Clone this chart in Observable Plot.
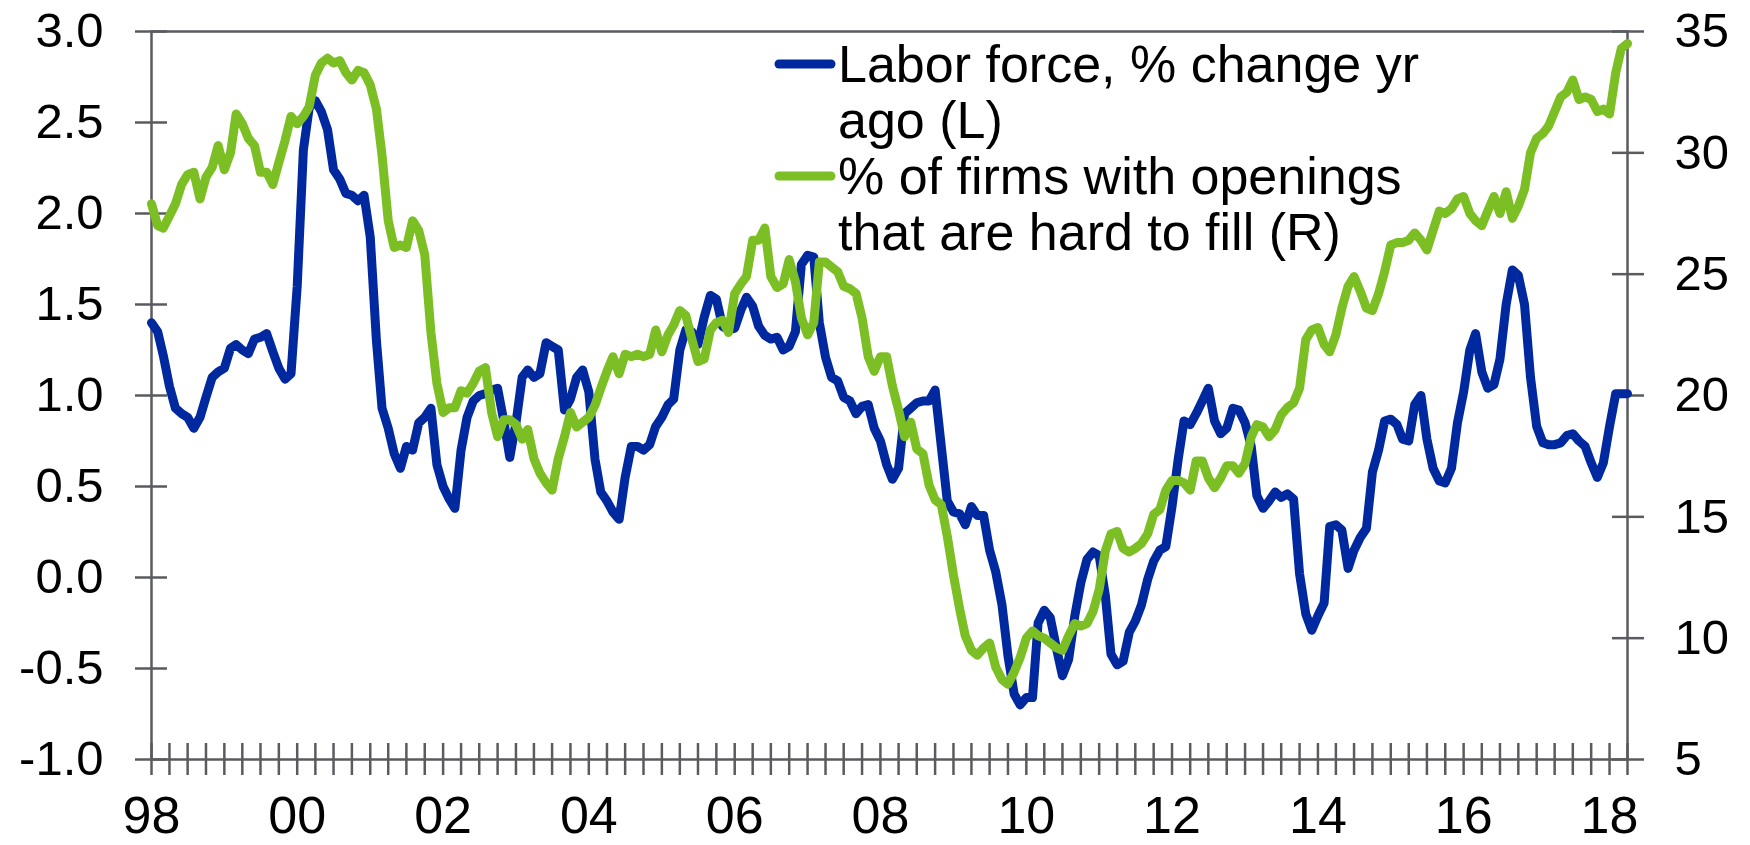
<!DOCTYPE html>
<html>
<head>
<meta charset="utf-8">
<script src="https://cdn.jsdelivr.net/npm/d3@7"></script>
<script src="https://cdn.jsdelivr.net/npm/@observablehq/plot@0.6"></script>
<style>
  html, body { margin: 0; padding: 0; background: #fff; }
  #chart { width: 1750px; height: 845px; }
</style>
</head>
<body>
<div id="chart"></div>
<script>
// ---------------- data ----------------
const firstMonth = [1998, 0];   // Jan 1998, monthly data

// Labor force, % change yr ago (left axis)
const laborForce = [
  1.40, 1.35, 1.22, 1.05, 0.93, 0.90, 0.88, 0.82, 0.88, 0.99, 1.10, 1.13,
  1.15, 1.26, 1.28, 1.25, 1.23, 1.31, 1.32, 1.34, 1.24, 1.15, 1.09, 1.12,
  1.60, 2.35, 2.58, 2.62, 2.56, 2.46, 2.24, 2.19, 2.11, 2.10, 2.07, 2.10,
  1.87, 1.30, 0.93, 0.82, 0.68, 0.60, 0.72, 0.70, 0.85, 0.88, 0.93, 0.62,
  0.50, 0.43, 0.38, 0.70, 0.88, 0.97, 1.00, 1.01, 1.03, 1.04, 0.86, 0.66,
  0.85, 1.10, 1.14, 1.10, 1.12, 1.29, 1.27, 1.25, 0.92, 0.98, 1.10, 1.14,
  1.02, 0.65, 0.47, 0.42, 0.36, 0.32, 0.55, 0.72, 0.72, 0.70, 0.73, 0.83,
  0.88, 0.95, 0.98, 1.25, 1.36, 1.35, 1.28, 1.43, 1.55, 1.53, 1.38, 1.36,
  1.37, 1.47, 1.54, 1.49, 1.38, 1.33, 1.31, 1.32, 1.25, 1.27, 1.35, 1.72,
  1.77, 1.76, 1.40, 1.21, 1.10, 1.08, 0.99, 0.97, 0.90, 0.94, 0.95, 0.82,
  0.75, 0.62, 0.54, 0.60, 0.90, 0.93, 0.96, 0.97, 0.97, 1.03, 0.72, 0.42,
  0.36, 0.35, 0.29, 0.39, 0.34, 0.34, 0.15, 0.03, -0.15, -0.43, -0.64, -0.70,
  -0.66, -0.66, -0.25, -0.18, -0.22, -0.39, -0.54, -0.45, -0.21, -0.03, 0.10, 0.14,
  0.12, -0.10, -0.42, -0.48, -0.46, -0.30, -0.24, -0.15, -0.01, 0.09, 0.15, 0.17,
  0.39, 0.65, 0.86, 0.84, 0.90, 0.97, 1.04, 0.86, 0.79, 0.82, 0.93, 0.92,
  0.85, 0.72, 0.45, 0.38, 0.42, 0.47, 0.44, 0.46, 0.43, 0.02, -0.20, -0.29,
  -0.21, -0.14, 0.28, 0.29, 0.26, 0.05, 0.15, 0.22, 0.27, 0.58, 0.70, 0.86,
  0.87, 0.84, 0.76, 0.75, 0.95, 1.00, 0.76, 0.60, 0.53, 0.52, 0.60, 0.85,
  1.02, 1.25, 1.34, 1.13, 1.04, 1.06, 1.20, 1.50, 1.69, 1.66, 1.50, 1.10,
  0.83, 0.74, 0.73, 0.73, 0.74, 0.78, 0.79, 0.75, 0.72, 0.63, 0.55, 0.63,
  0.83, 1.01, 1.01, 1.01
];

// % of firms with openings that are hard to fill (right axis)
const hardToFill = [
  27.9, 27.0, 26.9, 27.4, 27.9, 28.7, 29.1, 29.2, 28.1, 29.0, 29.4, 30.3,
  29.3, 30.0, 31.6, 31.2, 30.6, 30.3, 29.2, 29.2, 28.7, 29.6, 30.5, 31.5,
  31.2, 31.5, 31.9, 33.2, 33.7, 33.9, 33.7, 33.8, 33.3, 33.0, 33.4, 33.3,
  32.8, 31.8, 29.9, 27.2, 26.1, 26.2, 26.1, 27.2, 26.8, 25.8, 22.6, 20.5,
  19.3, 19.5, 19.5, 20.2, 20.1, 20.5, 21.0, 21.15, 19.3, 18.3, 19.0, 19.0,
  18.8, 18.2, 18.6, 17.4, 16.8, 16.4, 16.1, 17.4, 18.3, 19.3, 18.7, 18.9,
  19.1, 19.6, 20.3, 21.0, 21.6, 20.9, 21.7, 21.6, 21.7, 21.6, 21.7, 22.7,
  21.8, 22.5, 22.9, 23.5, 23.3, 22.3, 21.4, 21.5, 22.7, 23.0, 23.1, 22.6,
  24.2, 24.6, 24.9, 26.4, 26.4, 26.9, 24.9, 24.45, 24.6, 25.6, 24.7, 23.2,
  22.5, 23.0, 25.5, 25.5, 25.3, 25.1, 24.5, 24.4, 24.2, 23.2, 21.6, 21.0,
  21.6, 21.6, 20.4, 19.4, 18.3, 18.9, 17.8, 17.6, 16.3, 15.7, 15.5, 14.2,
  12.6, 11.2, 10.1, 9.5, 9.3, 9.6, 9.8, 8.8, 8.3, 8.1, 8.6, 9.2,
  10.0, 10.3, 10.1, 10.0, 9.8, 9.6, 9.5, 10.1, 10.6, 10.5, 10.6, 11.1,
  12.0, 13.6, 14.3, 14.4, 13.7, 13.55, 13.7, 13.9, 14.3, 15.1, 15.3, 16.1,
  16.5, 16.5, 16.4, 16.1, 17.3, 17.3, 16.6, 16.2, 16.6, 17.1, 17.1, 16.8,
  17.2, 18.3, 18.8, 18.7, 18.3, 18.6, 19.2, 19.5, 19.7, 20.3, 22.3, 22.7,
  22.8, 22.1, 21.8, 22.5, 23.6, 24.5, 24.9, 24.3, 23.6, 23.5, 24.2, 25.1,
  26.2, 26.3, 26.3, 26.4, 26.7, 26.4, 26.0, 26.8, 27.6, 27.5, 27.7, 28.1,
  28.2, 27.5, 27.2, 27.0, 27.6, 28.2, 27.5, 28.4, 27.3, 27.8, 28.5, 30.0,
  30.6, 30.8, 31.1, 31.7, 32.3, 32.5, 33.0, 32.2, 32.3, 32.2, 31.7, 31.8,
  31.6, 33.3, 34.3, 34.5
];

const leftDomain = [-1, 3];
const rightDomain = [5, 35];
const leftTicks = [-1, -0.5, 0, 0.5, 1, 1.5, 2, 2.5, 3];
const rightTicks = [5, 10, 15, 20, 25, 30, 35];
const seriesNames = [
  ["Labor force, % change yr", "ago (L)"],
  ["% of firms with openings", "that are hard to fill (R)"]
];

// ---------------- styles ----------------
const BLUE = "#0029A0";
const GREEN = "#7CBF25";
const AXIS = "#595B5F";
const FONT = "'Liberation Sans', Arial, Helvetica, sans-serif";

// ---------------- build ----------------
const start = new Date(Date.UTC(firstMonth[0], firstMonth[1], 1));
const dates = laborForce.map((_, i) => d3.utcMonth.offset(start, i));
const end = dates[dates.length - 1];

// map right-axis values onto the left-axis scale
const rightToLeft = d3.scaleLinear().domain(rightDomain).range(leftDomain);

const blueRows = laborForce.map((v, i) => ({date: dates[i], value: v}));
const greenRows = hardToFill.map((v, i) => ({date: dates[i], value: rightToLeft(v), raw: v}));

const quarterTicks = d3.utcMonth.every(3).range(start, d3.utcDay.offset(end, 1));
const yearTicks = d3.utcYear.every(2).range(start, d3.utcDay.offset(end, 1));
const rightTickPos = rightTicks.map(rightToLeft);

const chart = Plot.plot({
  width: 1750,
  height: 845,
  marginLeft: 151,
  marginRight: 123,
  marginTop: 31,
  marginBottom: 86,
  style: {fontFamily: FONT, fontSize: "49px", color: "#000", background: "#fff", overflow: "visible"},
  x: {type: "utc", domain: [start, end], axis: null, label: null},
  y: {domain: leftDomain, axis: null, label: null},
  marks: [
    Plot.frame({stroke: AXIS, strokeWidth: 2.5}),
    // crossing ticks
    Plot.axisY(leftTicks, {anchor: "left", tickSize: 32, dx: 16, stroke: AXIS, strokeWidth: 2.5, fill: "none", label: null}),
    Plot.axisY(rightTickPos, {anchor: "right", tickSize: 32, dx: -16, stroke: AXIS, strokeWidth: 2.5, fill: "none", label: null}),
    Plot.axisX(quarterTicks, {anchor: "bottom", tickSize: 32, dy: -16, stroke: AXIS, strokeWidth: 2.5, fill: "none", label: null}),
    // tick labels
    Plot.axisY(leftTicks, {anchor: "left", tickSize: 0, tickPadding: 48, tickFormat: d => d.toFixed(1), fill: "#000", fontSize: 49, label: null}),
    Plot.axisY(rightTickPos, {anchor: "right", tickSize: 0, tickPadding: 47, tickFormat: d => String(Math.round(rightToLeft.invert(d))), fill: "#000", fontSize: 49, label: null}),
    Plot.axisX(yearTicks, {anchor: "bottom", tickSize: 0, tickPadding: 37, tickFormat: d3.utcFormat("%y"), fill: "#000", fontSize: 52, label: null}),
    // series
    Plot.line(blueRows, {x: "date", y: "value", stroke: BLUE, strokeWidth: 9, strokeLinejoin: "round", strokeLinecap: "round"}),
    Plot.line(greenRows, {x: "date", y: "value", stroke: GREEN, strokeWidth: 9, strokeLinejoin: "round", strokeLinecap: "round"})
  ]
});

document.getElementById("chart").appendChild(chart);

// ---------------- legend (inside plot area) ----------------
const svg = d3.select(chart);
const lg = svg.append("g")
  .attr("font-family", FONT)
  .attr("font-size", 52)
  .attr("fill", "#000")
  .attr("text-anchor", "start");
const legendColors = [BLUE, GREEN];
const swatchY = [64, 176];
const firstBaseline = [82, 194];
const lineGap = 56;
seriesNames.forEach((lines, i) => {
  lg.append("line")
    .attr("x1", 779).attr("x2", 831)
    .attr("y1", swatchY[i]).attr("y2", swatchY[i])
    .attr("stroke", legendColors[i]).attr("stroke-width", 9).attr("stroke-linecap", "round");
  lines.forEach((t, j) => {
    lg.append("text")
      .attr("x", 838)
      .attr("y", firstBaseline[i] + j * lineGap)
      .attr("text-anchor", "start")
      .text(t);
  });
});
</script>
</body>
</html>
